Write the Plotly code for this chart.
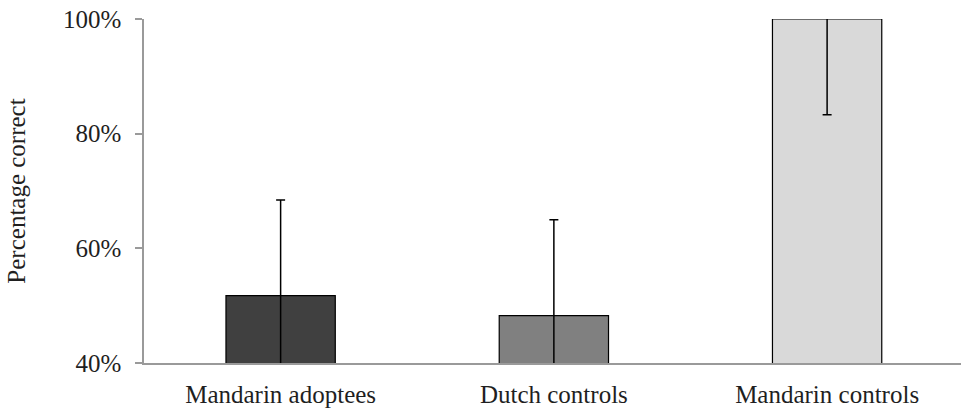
import plotly.graph_objects as go

categories = ["Mandarin adoptees", "Dutch controls", "Mandarin controls"]
values = [51.75, 48.25, 100.0]
errors = [16.7, 16.75, 16.7]
colors = ["#404040", "#808080", "#d9d9d9"]
y_ticks = [40, 60, 80, 100]
y_tick_labels = ["40%", "60%", "80%", "100%"]

fig = go.Figure(
    go.Bar(
        x=categories,
        y=values,
        width=0.4,
        marker=dict(color=colors, line=dict(color="#000000", width=1.2)),
        error_y=dict(type="data", array=errors, symmetric=True,
                     color="#000000", thickness=1.5, width=4.5),
        cliponaxis=True,
    )
)

font_family = "Liberation Serif, Times New Roman, serif"
txt = "#1f1f1f"
fig.update_layout(
    width=961, height=409,
    margin=dict(l=144, r=0, t=19, b=46),
    paper_bgcolor="white", plot_bgcolor="white",
    showlegend=False,
    font=dict(family=font_family, color=txt),
    xaxis=dict(
        type="category",
        range=[-0.5, 2.49],
        showline=True, linecolor="#9a9a9a", linewidth=1.5,
        ticks="", showgrid=False,
        ticklabelstandoff=8,
        tickfont=dict(size=25, family=font_family, color=txt),
    ),
    yaxis=dict(
        range=[40, 100],
        tickvals=y_ticks, ticktext=y_tick_labels,
        showline=True, linecolor="#9a9a9a", linewidth=1.5,
        ticks="outside", ticklen=7, tickcolor="#9a9a9a", tickwidth=1.5,
        ticklabelstandoff=9,
        showgrid=False, zeroline=False,
        tickfont=dict(size=25, family=font_family, color=txt),
        title=dict(text="Percentage correct", standoff=30,
                   font=dict(size=25, family=font_family, color=txt)),
    ),
)

fig.write_html("out.html")
